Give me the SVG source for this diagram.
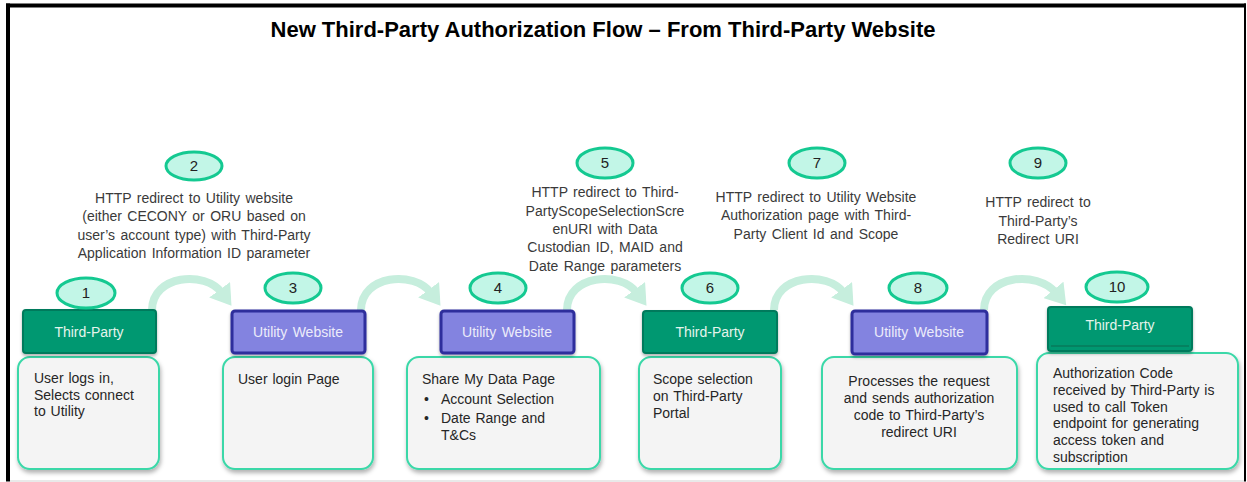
<svg xmlns="http://www.w3.org/2000/svg" width="1247" height="482" viewBox="0 0 1247 482">
<defs>
<filter id="sh" x="-10%" y="-10%" width="125%" height="130%">
<feDropShadow dx="1" dy="3" stdDeviation="2" flood-color="#000" flood-opacity="0.3"/>
</filter>
<filter id="shh" x="-10%" y="-10%" width="125%" height="140%">
<feDropShadow dx="0" dy="2" stdDeviation="1.5" flood-color="#000" flood-opacity="0.3"/>
</filter>
<marker id="ah" markerUnits="userSpaceOnUse" markerWidth="24" markerHeight="26" refX="4" refY="13" orient="auto">
<path d="M0,0 L20,13 L0,26 z" fill="#c6eedd"/>
</marker>
<style>
text{font-family:"Liberation Sans",Arial,sans-serif;}
.title{font-size:22px;font-weight:bold;fill:#000;text-anchor:middle;}
.badge ellipse{fill:#c2f6e7;stroke:#14c991;stroke-width:3;}
.badge text{font-size:15px;fill:#222;text-anchor:middle;}
.lbl{font-size:14px;fill:#3a3a3a;text-anchor:middle;word-spacing:1.5px;}
.tp rect{fill:#009871;stroke:#007a5b;stroke-width:2;}
.uw rect{fill:#8383e0;stroke:#2d2d9c;stroke-width:3;}
.hdr{font-size:14px;text-anchor:middle;word-spacing:1.5px;}
.tp .hdr{fill:#e4f4ec;}
.uw .hdr{fill:#ececfa;}
.box{fill:#f4f4f4;stroke:#3ad8a8;stroke-width:2;}
.bt{font-size:14px;fill:#262626;word-spacing:1px;}
.conn path{fill:none;stroke:#c6eedd;stroke-width:8;}
</style>
</defs>
<rect x="0" y="0" width="1247" height="482" fill="#fff"/>
<g id="frame">
<rect x="6" y="3.5" width="1240" height="4" fill="#000"/>
<rect x="6" y="3.5" width="4" height="478" fill="#000"/>
<rect x="1244" y="3.5" width="2" height="478" fill="#000"/>
<line x1="10" y1="481" x2="1244" y2="481" stroke="#e2e2e2" stroke-width="1.5"/>
</g>
<text class="title" x="603" y="37">New Third-Party Authorization Flow – From Third-Party Website</text>

<g id="connectors" class="conn">
<path d="M152,310 C152,275 205,270 222,293" marker-end="url(#ah)"/>
<path d="M361,310 C361,275 414,270 431,293" marker-end="url(#ah)"/>
<path d="M567,310 C567,275 620,270 637,293" marker-end="url(#ah)"/>
<path d="M774,310 C774,275 827,270 844,293" marker-end="url(#ah)"/>
<path d="M984,310 C984,275 1037,270 1056,293" marker-end="url(#ah)"/>
</g>

<g id="label2">
<g class="badge"><ellipse cx="194" cy="166" rx="28" ry="14"/><text x="194" y="171">2</text></g>
<text class="lbl" x="194" y="203">HTTP redirect to Utility website</text>
<text class="lbl" x="194" y="221">(either CECONY or ORU based on</text>
<text class="lbl" x="194" y="240">user’s account type) with Third-Party</text>
<text class="lbl" x="194" y="258">Application Information ID parameter</text>
</g>
<g id="label5">
<g class="badge"><ellipse cx="605" cy="163" rx="28" ry="15"/><text x="605" y="168">5</text></g>
<text class="lbl" x="605" y="197">HTTP redirect to Third-</text>
<text class="lbl" x="605" y="216">PartyScopeSelectionScre</text>
<text class="lbl" x="605" y="234">enURI with Data</text>
<text class="lbl" x="605" y="252">Custodian ID, MAID and</text>
<text class="lbl" x="605" y="271">Date Range parameters</text>
</g>
<g id="label7">
<g class="badge"><ellipse cx="817" cy="163" rx="28" ry="15"/><text x="817" y="168">7</text></g>
<text class="lbl" x="816" y="202">HTTP redirect to Utility Website</text>
<text class="lbl" x="816" y="220">Authorization page with Third-</text>
<text class="lbl" x="816" y="239">Party Client Id and Scope</text>
</g>
<g id="label9">
<g class="badge"><ellipse cx="1038" cy="163" rx="28" ry="15"/><text x="1038" y="168">9</text></g>
<text class="lbl" x="1038" y="207">HTTP redirect to</text>
<text class="lbl" x="1038" y="226">Third-Party’s</text>
<text class="lbl" x="1038" y="244">Redirect URI</text>
</g>

<g id="step1">
<rect class="box" x="18" y="357" width="141" height="112" rx="12" filter="url(#sh)"/>
<g class="tp"><rect x="23" y="310" width="133" height="43" rx="3" filter="url(#shh)"/><text class="hdr" x="89" y="337">Third-Party</text></g>
<g class="badge"><ellipse cx="86" cy="293" rx="29" ry="15"/><text x="86" y="298">1</text></g>
<text class="bt" x="34" y="383">User logs in,</text>
<text class="bt" x="34" y="400">Selects connect</text>
<text class="bt" x="34" y="416">to Utility</text>
</g>
<g id="step3">
<rect class="box" x="223" y="357" width="150" height="112" rx="12" filter="url(#sh)"/>
<g class="uw"><rect x="232" y="311" width="133" height="42" rx="3" filter="url(#shh)"/><text class="hdr" x="298" y="337">Utility Website</text></g>
<g class="badge"><ellipse cx="293" cy="288" rx="28" ry="15"/><text x="293" y="293">3</text></g>
<text class="bt" x="238" y="384">User login Page</text>
</g>
<g id="step4">
<rect class="box" x="407" y="357" width="193" height="112" rx="12" filter="url(#sh)"/>
<g class="uw"><rect x="441" y="311" width="133" height="42" rx="3" filter="url(#shh)"/><text class="hdr" x="507" y="337">Utility Website</text></g>
<g class="badge"><ellipse cx="498" cy="288" rx="28" ry="15"/><text x="498" y="293">4</text></g>
<text class="bt" x="422" y="384">Share My Data Page</text>
<text class="bt" x="424" y="404">•</text>
<text class="bt" x="441" y="404">Account Selection</text>
<text class="bt" x="424" y="423">•</text>
<text class="bt" x="441" y="423">Date Range and</text>
<text class="bt" x="441" y="440">T&amp;Cs</text>
</g>
<g id="step6">
<rect class="box" x="639" y="357" width="142" height="112" rx="12" filter="url(#sh)"/>
<g class="tp"><rect x="643" y="311" width="134" height="42" rx="3" filter="url(#shh)"/><text class="hdr" x="710" y="337">Third-Party</text></g>
<g class="badge"><ellipse cx="710" cy="288" rx="28" ry="15"/><text x="710" y="293">6</text></g>
<text class="bt" x="653" y="384">Scope selection</text>
<text class="bt" x="653" y="401">on Third-Party</text>
<text class="bt" x="653" y="418">Portal</text>
</g>
<g id="step8">
<rect class="box" x="822" y="357" width="195" height="112" rx="12" filter="url(#sh)"/>
<g class="uw"><rect x="852" y="311" width="135" height="43" rx="3" filter="url(#shh)"/><text class="hdr" x="919" y="337">Utility Website</text></g>
<g class="badge"><ellipse cx="918" cy="288" rx="29" ry="15"/><text x="918" y="293">8</text></g>
<text class="bt" x="919" y="386" text-anchor="middle">Processes the request</text>
<text class="bt" x="919" y="403" text-anchor="middle">and sends authorization</text>
<text class="bt" x="919" y="420" text-anchor="middle">code to Third-Party’s</text>
<text class="bt" x="919" y="437" text-anchor="middle">redirect URI</text>
</g>
<g id="step10">
<rect class="box" x="1037" y="353" width="201" height="116" rx="12" filter="url(#sh)"/>
<g class="tp"><rect x="1048" y="307" width="144" height="44" rx="3" filter="url(#shh)"/><line x1="1051" y1="346" x2="1189" y2="346" stroke="#0b6b50" stroke-width="1"/><text class="hdr" x="1120" y="330">Third-Party</text></g>
<g class="badge"><ellipse cx="1117" cy="287" rx="31" ry="15"/><text x="1117" y="292">10</text></g>
<text class="bt" x="1053" y="378">Authorization  Code</text>
<text class="bt" x="1053" y="395">received by Third-Party is</text>
<text class="bt" x="1053" y="412">used to call Token</text>
<text class="bt" x="1053" y="428">endpoint for generating</text>
<text class="bt" x="1053" y="445">access token and</text>
<text class="bt" x="1053" y="462">subscription</text>
</g>
</svg>
